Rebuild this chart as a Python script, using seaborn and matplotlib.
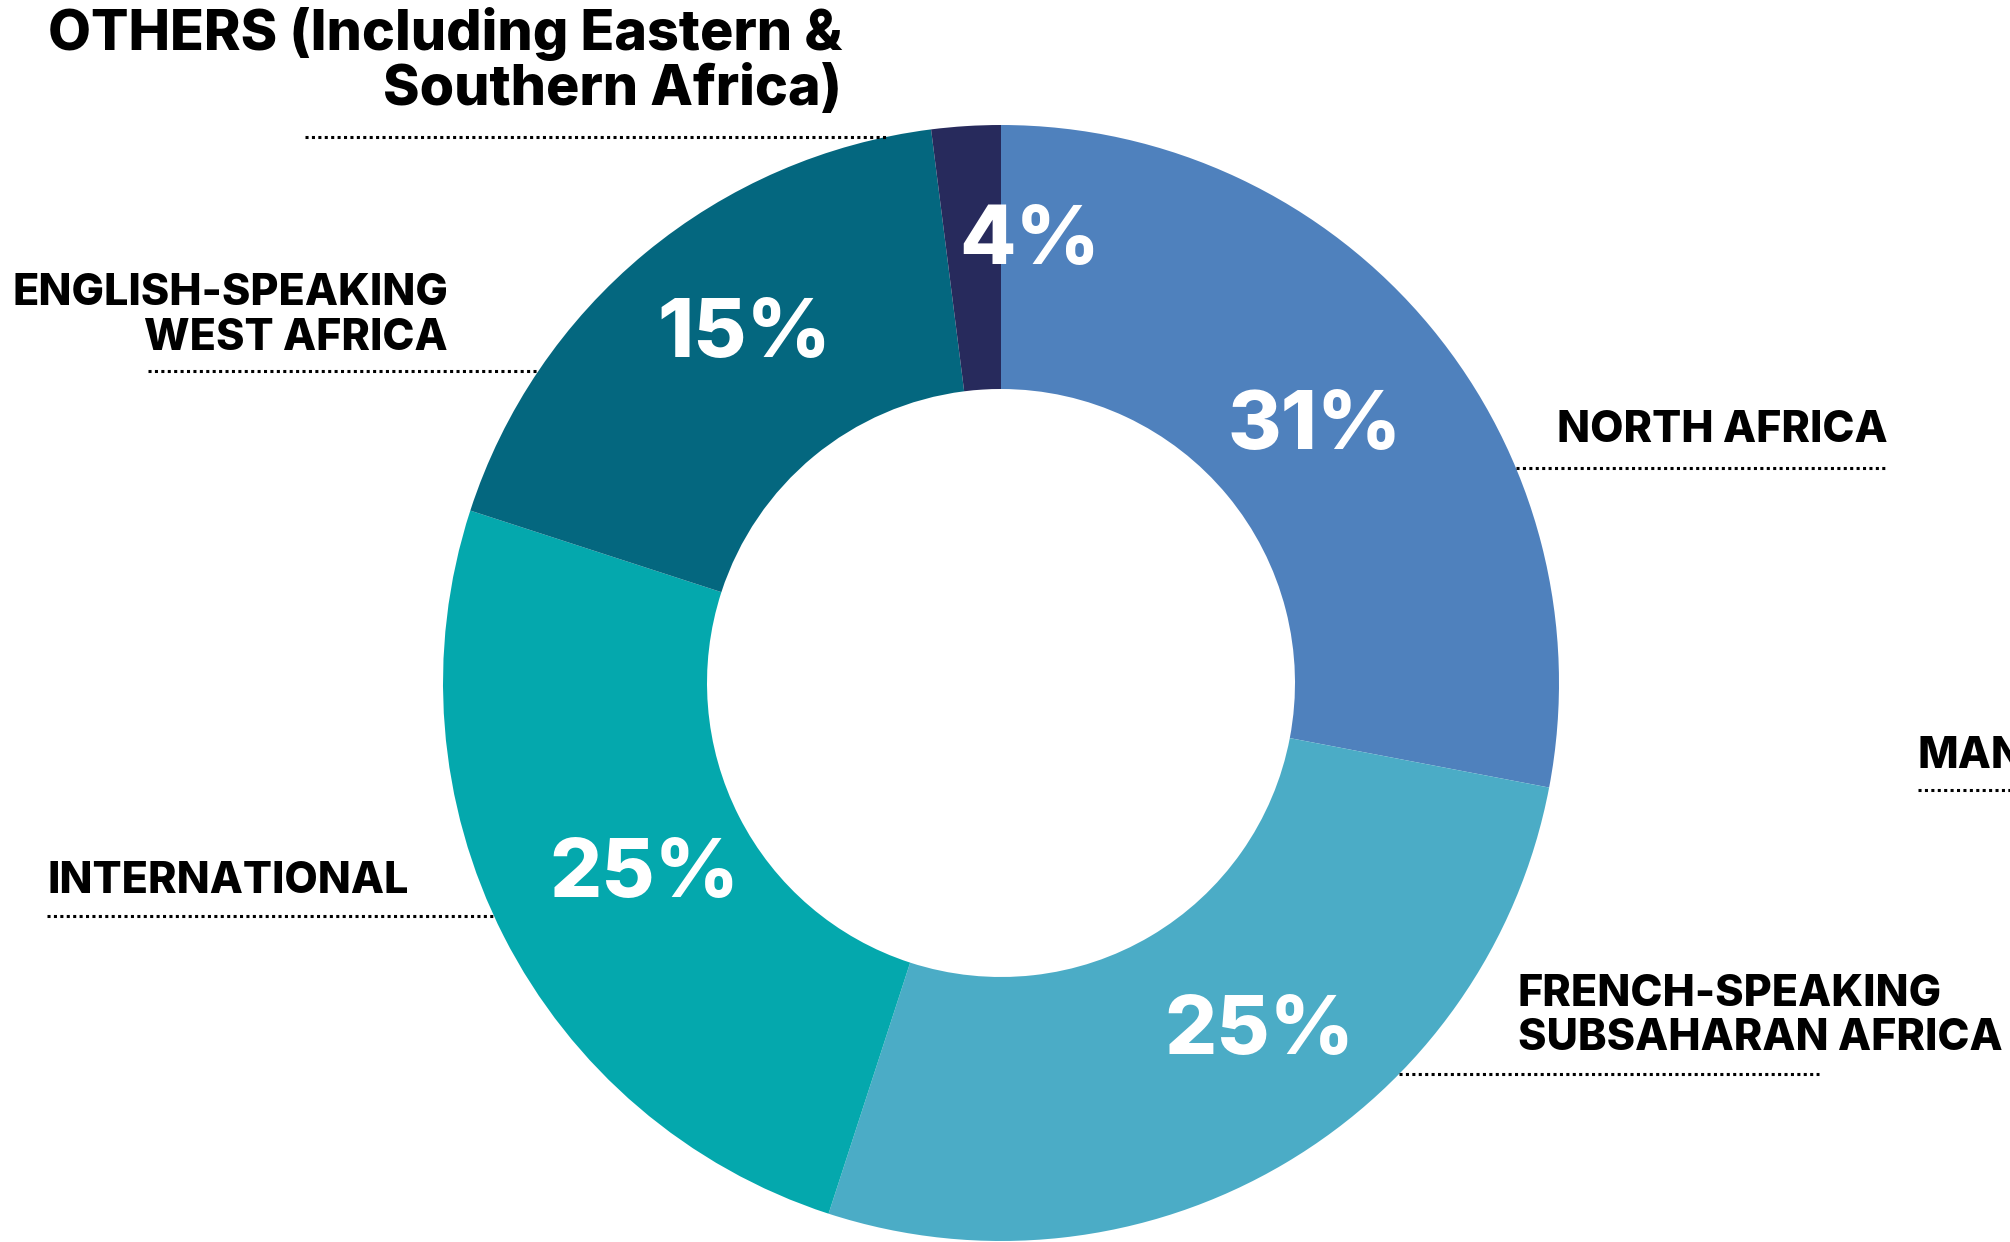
import numpy as np
import matplotlib
matplotlib.use("Agg")
import matplotlib.pyplot as plt
import seaborn as sns

# shares (clockwise from 12 o'clock)
regions = ["North Africa", "French-speaking Subsaharan Africa", "International",
           "English-speaking West Africa", "Others"]
shares = [28, 27, 25, 18, 2]
# printed percentages as they appear on the chart
pct_labels = ["31%", "25%", "25%", "15%", "4%"]
colors = ["#4F81BD", "#4BACC6", "#04A8AD", "#04677F", "#272A5C"]

sns.set_theme(style="white")
plt.rcParams["font.family"] = ["Inter", "DejaVu Sans"]

W, H = 2010, 1242
fig = plt.figure(figsize=(W / 100, H / 100), dpi=100)
ax = fig.add_axes([0, 0, 1, 1])

cx, cy = 1001, 559
R, ring = 558, 264

ax.pie(shares, colors=sns.color_palette(colors), startangle=90, counterclock=False,
       center=(cx, cy), radius=R, frame=True,
       wedgeprops=dict(width=ring, linewidth=0))
ax.set_xlim(0, W)
ax.set_ylim(0, H)
ax.set_aspect("equal")
ax.axis("off")

# percentage labels inside the ring
pct_pos = [(1315, 793), (1259, 188), (644, 345), (744, 885), (1030, 978)]
for txt, (x, y) in zip(pct_labels, pct_pos):
    ax.text(x, y, txt, color="white", fontsize=59, fontweight=800,
            ha="center", va="baseline")


def ring_x(y, side):
    return cx + side * np.sqrt(R ** 2 - (y - cy) ** 2)


def dotted(x0, x1, y):
    ax.plot([x0, x1], [y, y], color="black", lw=2.2, solid_capstyle="butt",
            dash_capstyle="butt", linestyle=(0, (1.0, 1.1)), clip_on=False)


lab = dict(color="black", fontsize=31, fontweight=800, va="baseline")
big = {**lab, "fontsize": 40}

# Others
ax.text(842, 1192, "OTHERS (Including Eastern &", ha="right", **big)
ax.text(842, 1137, "Southern Africa)", ha="right", **big)
dotted(305, ring_x(1105, -1), 1105)

# English-speaking
ax.text(448, 937, "ENGLISH-SPEAKING", ha="right", **lab)
ax.text(448, 892, "WEST AFRICA", ha="right", **lab)
dotted(148, ring_x(871, -1), 871)

# North Africa
ax.text(1888, 800, "NORTH AFRICA", ha="right", **lab)
dotted(ring_x(774, 1), 1888, 774)

# label cut by the right edge in the original
ax.text(1918, 474, "MAN", ha="left", **lab)
dotted(1918, 2100, 452)

# International
ax.text(47, 349, "INTERNATIONAL", ha="left", **lab)
dotted(47, ring_x(326, -1), 326)

# French-speaking
ax.text(1518, 236, "FRENCH-SPEAKING", ha="left", **lab)
ax.text(1518, 192, "SUBSAHARAN AFRICA", ha="left", **lab)
dotted(ring_x(168, 1), 1819, 168)

fig.savefig("out.png", dpi=100, facecolor="white")
